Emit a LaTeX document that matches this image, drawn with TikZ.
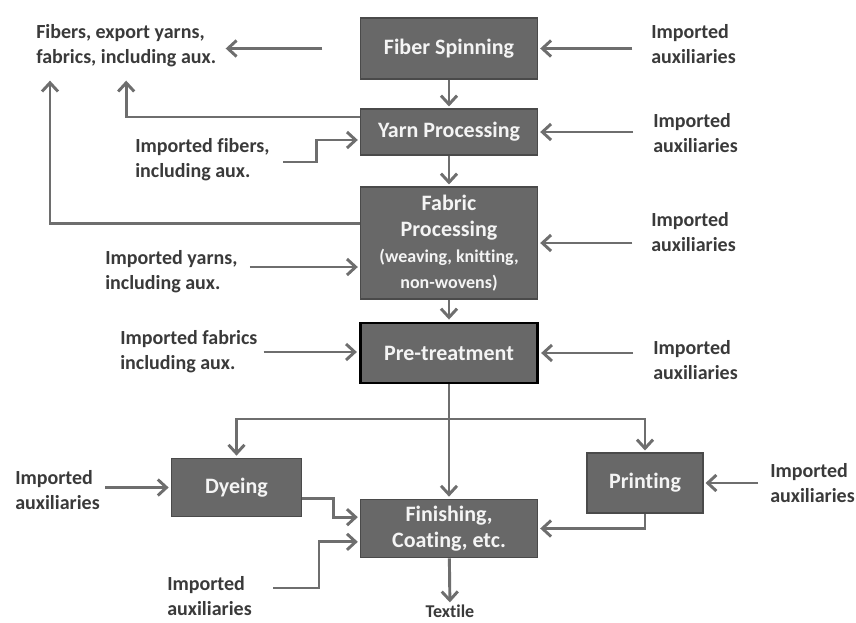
\documentclass[tikz,border=0pt]{standalone}
\usepackage{fontspec}
\setmainfont{Carlito}[Ligatures=NoCommon]
\usetikzlibrary{arrows.meta}
\definecolor{boxgray}{HTML}{686868}
\definecolor{boxline}{HTML}{4A4A4A}
\definecolor{boxtext}{HTML}{F4F4F4}
\definecolor{linegray}{HTML}{6E6E6E}
\definecolor{labelgray}{HTML}{3A3A3A}
\tikzset{
    %Define standard arrow tip
    >={Straight Barb[length=6.5pt,width=12pt]},
    %Define style for process boxes
    stage/.style={
           rectangle,
           fill=boxgray,
           draw=boxline, thick,
           text=boxtext,
           minimum width=133pt,
           font=\bfseries\fontsize{16.5}{19.5}\selectfont,
           align=center},
    annote/.style={
          text=labelgray,
          inner sep=0pt,
          align=left,
          font=\bfseries\fontsize{15}{18.5}\selectfont
    },
    % Define arrow style
    arrow/.style={
           ->,
           draw=linegray,
           line width=2.2pt,
           shorten >=1.5pt},
}

\begin{document}
\begin{tikzpicture}[x=0.75pt,y=-0.75pt]
  \fill[white] (0,0) rectangle (856,622);
  \useasboundingbox (0,0) rectangle (856,622);
  % process chain
  \node[stage, minimum height=45.75pt] (fiber) at (449,48.5) {Fiber Spinning};
  \node[stage, minimum height=34.5pt] (yarn) at (449,132) {Yarn Processing};
  \node[stage, minimum height=84pt] (fabric) at (449,243)
       {Fabric\\Processing\\\fontsize{13.5}{16.5}\selectfont(weaving, knitting,\\\fontsize{13.5}{16.5}\selectfont non-wovens)};
  \node[stage, draw=black, line width=2.2pt, minimum height=45pt] (pretreat) at (449,353) {Pre-treatment};
  \node[stage, minimum width=98pt, minimum height=44pt] (dyeing) at (236.5,487.5) {Dyeing};
  \node[stage, minimum width=87pt, minimum height=45pt] (printing) at (645,483) {Printing};
  \node[stage, minimum height=44pt] (finishing) at (449,528.5) {Finishing,\\Coating, etc.};
  \node[annote, font=\bfseries\fontsize{13.5}{15}\selectfont] (textile) at (450,611) {Textile};

  % labels on the left
  \node[annote, anchor=west] (export) at (36,46) {Fibers, export yarns,\\fabrics, including aux.};
  \node[annote, anchor=west] (impFibers) at (135,160) {Imported fibers,\\including aux.};
  \node[annote, anchor=west] (impYarns) at (105,272) {Imported yarns,\\including aux.};
  \node[annote, anchor=west] (impFabrics) at (120,352) {Imported fabrics\\including aux.};
  \node[annote, anchor=west] (auxDye) at (15,490) {Imported\\auxiliaries};
  \node[annote, anchor=west] (auxFin) at (167,596) {Imported\\auxiliaries};

  % labels on the right
  \node[annote, anchor=west] (auxFiber) at (651,44) {Imported\\auxiliaries};
  \node[annote, anchor=west] (auxYarn) at (653,133) {Imported\\auxiliaries};
  \node[annote, anchor=west] (auxFabric) at (651,232) {Imported\\auxiliaries};
  \node[annote, anchor=west] (auxPre) at (653,360) {Imported\\auxiliaries};
  \node[annote, anchor=west] (auxPrint) at (770,483) {Imported\\auxiliaries};

  % main flow
  \draw[arrow] (fiber) -- (yarn);
  \draw[arrow] (yarn) -- (fabric);
  \draw[arrow] (fabric) -- (pretreat);
  \draw[arrow] (pretreat) -- (finishing);
  \draw[arrow] (finishing) -- (textile);

  % exports
  \draw[arrow, shorten <=28pt, shorten >=7pt] (fiber.west) -- (fiber.west -| export.east);
  \draw[arrow, shorten >=10pt] ([yshift=11.25pt]yarn.west) -| (export.south);
  \draw[arrow, shorten >=10pt] ([yshift=14.5pt]fabric.west) -| ([xshift=10.5pt]export.south west);

  % imports from the left
  \draw[arrow, shorten <=10pt] ([yshift=-1.5pt]impFibers.east) -- ++(47,0) |- ([yshift=-6pt]yarn.west);
  \draw[arrow, shorten <=9pt] ([yshift=3.75pt]impYarns.east) -- ([yshift=3.75pt]impYarns.east -| fabric.west);
  \draw[arrow, shorten <=4.5pt] (impFabrics.east) -- (impFabrics.east -| pretreat.west);
  \draw[arrow, shorten <=4pt] (dyeing.west -| auxDye.east) -- (dyeing.west);
  \draw[arrow, shorten <=16pt] ([yshift=6pt]auxFin.east) -- ++(67,0) |- ([yshift=-10pt]finishing.west);

  % auxiliaries from the right
  \foreach \stg/\supply/\gap in {fiber/auxFiber/14pt, yarn/auxYarn/15pt, fabric/auxFabric/14pt,
                                 pretreat/auxPre/15pt, printing/auxPrint/9pt}
    \draw[arrow, shorten <=\gap] (\stg.east -| \supply.west) -- (\stg.east);

  % split after pre-treatment
  \coordinate (split) at (449,419);
  \draw[arrow] (split) -| (dyeing);
  \draw[arrow] (split) -| (printing);
  \draw[arrow] ([yshift=-8.25pt]dyeing.east) -- ++(31,0) |- ([yshift=8.5pt]finishing.west);
  \draw[arrow] (printing) |- (finishing);
\end{tikzpicture}
\end{document}
